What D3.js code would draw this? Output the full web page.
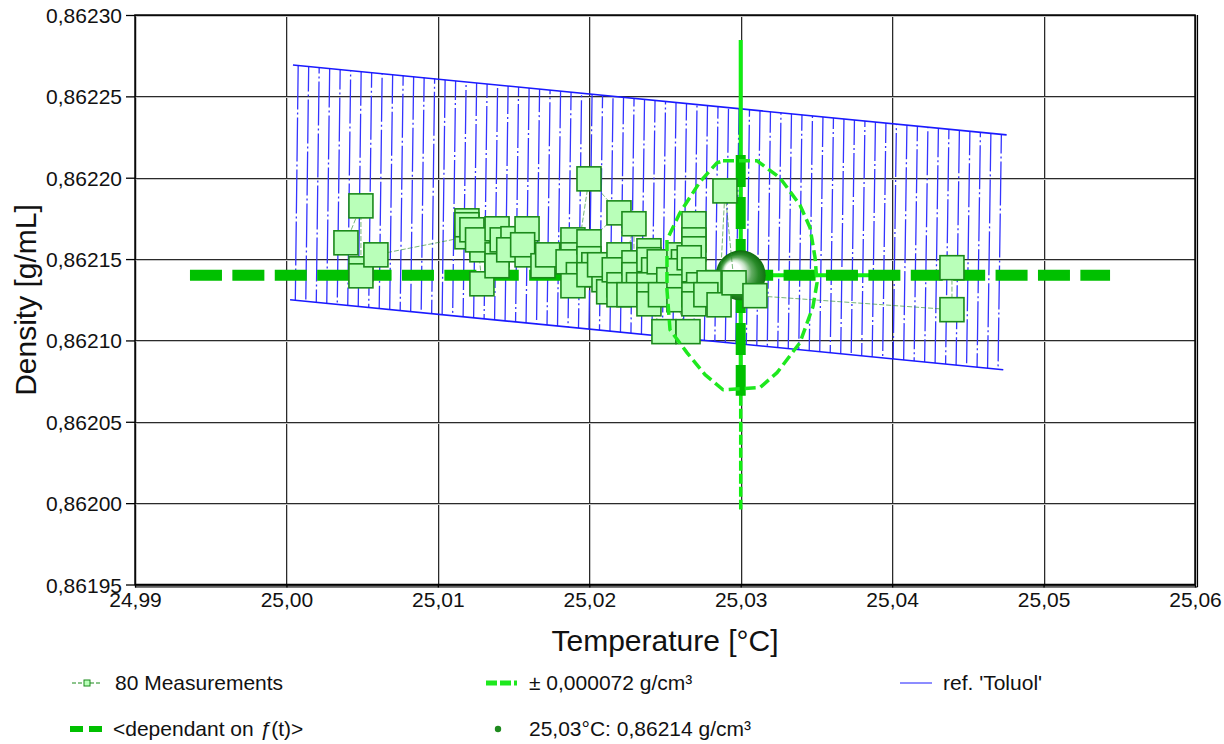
<!DOCTYPE html>
<html>
<head>
<meta charset="utf-8">
<script src="https://cdn.jsdelivr.net/npm/d3@7"></script>
<style>
  body { margin: 0; background: #fff; }
  svg { font-family: "Liberation Sans", Arial, sans-serif; display: block; }
</style>
</head>
<body>
<div id="page"></div>
<script>
(function() {

  "use strict";

  // axis ticks
  var xTicks = [24.99, 25.00, 25.01, 25.02, 25.03, 25.04, 25.05, 25.06];
  var yTicks = [0.86195, 0.86200, 0.86205, 0.86210, 0.86215, 0.86220, 0.86225, 0.86230];

  // 80 measurements, in order (temperature, density)
  var measT = [
    25.00393, 25.00492, 25.00492, 25.00492, 25.00591, 25.01192, 25.01192, 25.01192, 25.01225, 25.01291,
    25.01291, 25.01262, 25.01291, 25.01391, 25.01391, 25.01391, 25.01425, 25.01496, 25.01468, 25.01589,
    25.01589, 25.01560, 25.01694, 25.01725, 25.01892, 25.01892, 25.01860, 25.01928, 25.01892, 25.01998,
    25.02196, 25.01998, 25.01998, 25.02030, 25.01998, 25.02097, 25.02068, 25.02128, 25.02196, 25.02165,
    25.02196, 25.02196, 25.02295, 25.02295, 25.02295, 25.02325, 25.02262, 25.02394, 25.02394, 25.02425,
    25.02394, 25.02394, 25.02394, 25.02493, 25.02652, 25.02462, 25.02525, 25.02470, 25.02592, 25.02622,
    25.02592, 25.02592, 25.02592, 25.02691, 25.02691, 25.02691, 25.02660, 25.02691, 25.02722, 25.02691,
    25.02691, 25.02810, 25.02791, 25.02770, 25.02857, 25.02896, 25.02956, 25.03094, 25.04395, 25.04395
  ];
  var measD = [
    0.8621600, 0.8621827, 0.8621440, 0.8621397, 0.8621526, 0.8621637, 0.8621735, 0.8621711, 0.8621680, 0.8621588,
    0.8621557, 0.8621618, 0.8621348, 0.8621686, 0.8621526, 0.8621459, 0.8621618, 0.8621625, 0.8621557, 0.8621686,
    0.8621526, 0.8621588, 0.8621459, 0.8621526, 0.8621618, 0.8621526, 0.8621483, 0.8621404, 0.8621336, 0.8621993,
    0.8621784, 0.8621606, 0.8621502, 0.8621465, 0.8621404, 0.8621373, 0.8621465, 0.8621299, 0.8621526, 0.8621434,
    0.8621342, 0.8621281, 0.8621717, 0.8621477, 0.8621404, 0.8621342, 0.8621281, 0.8621551, 0.8621496, 0.8621434,
    0.8621342, 0.8621281, 0.8621225, 0.8621054, 0.8621054, 0.8621483, 0.8621373, 0.8621281, 0.8621526, 0.8621483,
    0.8621428, 0.8621330, 0.8621250, 0.8621717, 0.8621618, 0.8621563, 0.8621508, 0.8621434, 0.8621342, 0.8621281,
    0.8621225, 0.8621336, 0.8621354, 0.8621281, 0.8621219, 0.8621919, 0.8621354, 0.8621275, 0.8621189, 0.8621447
  ];

  // reference band 'Toluol' (upper and lower edge)
  var refTopT = [25.00043, 25.04756];
  var refTopD = [0.8622693, 0.8622263];
  var refBotT = [25.00024, 25.04734];
  var refBotD = [0.8621250, 0.8620820];

  // result
  var resT = 25.03;
  var resD = 0.86214;

  // <dependant on f(t)> cross
  var depT = [24.99363, 25.05439];
  var depD = [0.862214, 0.862066];

  // thin error bars
  var errT = [25.0214, 25.0386];
  var errD = [0.8622846, 0.8619961];
  var errDashFrom = 0.862066;

  // +- 0,000072 g/cm3 contour
  var contT = [
    25.02883, 25.03108, 25.03259, 25.03391, 25.03458, 25.03491, 25.03504, 25.03477, 25.03391, 25.03240,
    25.03127, 25.02883, 25.02764, 25.02645, 25.02533, 25.02513, 25.02513, 25.02599, 25.02731, 25.02843
  ];
  var contD = [
    0.8622104, 0.8622104, 0.8621999, 0.8621833, 0.8621692, 0.8621508, 0.8621354, 0.8621207, 0.8620986, 0.8620802,
    0.8620710, 0.8620697, 0.8620790, 0.8620925, 0.8621066, 0.8621311, 0.8621618, 0.8621784, 0.8621975, 0.8622091
  ];

  var legendItems = [
    { label: "80 Measurements", type: "meas" },
    { label: "\u00b1 0,000072 g/cm\u00b3", type: "cont" },
    { label: "ref. 'Toluol'", type: "ref" },
    { label: "<dependant on |(t)>", type: "dep" },
    { label: "25,03\u00b0C: 0,86214 g/cm\u00b3", type: "res" }
  ];

  /* * * * * * * * * * * * * * * * * * * */

  var W = 1224, H = 744;
  var left = 135, right = 1195, top = 15, bottom = 584.5;

  var svg = d3.select("#page").append("svg")
    .attr("width", W)
    .attr("height", H);

  var x = d3.scaleLinear().domain([24.99, 25.06]).range([left, right]);
  var y = d3.scaleLinear().domain([0.86195, 0.86230]).range([bottom, top]);

  var comma = function(f) {
    return function(v) { return d3.format(f)(v).replace(".", ","); };
  };

  var defs = svg.append("defs");

  var sphere = defs.append("radialGradient")
    .attr("id", "sphere")
    .attr("cx", "52%").attr("cy", "52%").attr("r", "52%")
    .attr("fx", "28%").attr("fy", "34%");
  [["0%", "#ffffff"], ["28%", "#ffffff"], ["42%", "#c8e4c8"], ["58%", "#62ac62"], ["76%", "#288a28"], ["100%", "#0b690b"]]
    .forEach(function(s) {
      sphere.append("stop").attr("offset", s[0]).attr("stop-color", s[1]);
    });

  /* * * grid * * */

  var grid = svg.append("g");

  xTicks.forEach(function(t) {
    var px = Math.round(x(t)) + 0.5;
    grid.append("line").attr("x1", px + 1).attr("x2", px + 1).attr("y1", top).attr("y2", bottom)
      .attr("stroke", "#c4c4c4").attr("stroke-width", 1);
    grid.append("line").attr("x1", px).attr("x2", px).attr("y1", top).attr("y2", bottom)
      .attr("stroke", "#2a2a2a").attr("stroke-width", 1);
  });

  yTicks.forEach(function(d) {
    var py = Math.round(y(d)) + 0.5;
    grid.append("line").attr("x1", left).attr("x2", right).attr("y1", py + 1).attr("y2", py + 1)
      .attr("stroke", "#c4c4c4").attr("stroke-width", 1);
    grid.append("line").attr("x1", left).attr("x2", right).attr("y1", py).attr("y2", py)
      .attr("stroke", "#2a2a2a").attr("stroke-width", 1);
  });

  /* * * reference band * * */

  var band = svg.append("g");
  var nHatch = 68;

  d3.range(nHatch).forEach(function(i) {
    var f = (i + 0.5) / nHatch;
    var tx = x(refTopT[0]) + f * (x(refTopT[1]) - x(refTopT[0]));
    var ty = y(refTopD[0]) + f * (y(refTopD[1]) - y(refTopD[0]));
    var bx = x(refBotT[0]) + f * (x(refBotT[1]) - x(refBotT[0]));
    var by = y(refBotD[0]) + f * (y(refBotD[1]) - y(refBotD[0]));
    band.append("line")
      .attr("x1", tx).attr("y1", ty).attr("x2", bx).attr("y2", by)
      .attr("stroke", "#3434ff")
      .attr("stroke-width", 1.3)
      .attr("stroke-dasharray", "44,3,2,3")
      .attr("stroke-dashoffset", (i * 19) % 52);
  });

  band.append("line")
    .attr("x1", x(refTopT[0])).attr("y1", y(refTopD[0]))
    .attr("x2", x(refTopT[1])).attr("y2", y(refTopD[1]))
    .attr("stroke", "#1a1aff").attr("stroke-width", 1.6);
  band.append("line")
    .attr("x1", x(refBotT[0])).attr("y1", y(refBotD[0]))
    .attr("x2", x(refBotT[1])).attr("y2", y(refBotD[1]))
    .attr("stroke", "#1a1aff").attr("stroke-width", 1.6);

  /* * * error cross * * */

  var cross = svg.append("g");

  cross.append("line")
    .attr("x1", x(errT[0])).attr("x2", x(errT[1]))
    .attr("y1", y(resD)).attr("y2", y(resD))
    .attr("stroke", "#11ee11").attr("stroke-width", 4);

  cross.append("line")
    .attr("x1", x(resT)).attr("x2", x(resT))
    .attr("y1", y(errD[0])).attr("y2", y(errDashFrom))
    .attr("stroke", "#11ee11").attr("stroke-width", 4);

  cross.append("line")
    .attr("x1", x(resT)).attr("x2", x(resT))
    .attr("y1", y(errDashFrom)).attr("y2", y(errD[1]))
    .attr("stroke", "#11ee11").attr("stroke-width", 3.5)
    .attr("stroke-dasharray", "10,3");

  cross.append("line")
    .attr("x1", x(depT[0])).attr("x2", x(depT[1]))
    .attr("y1", y(resD)).attr("y2", y(resD))
    .attr("stroke", "#00c000").attr("stroke-width", 11)
    .attr("stroke-dasharray", "32,10.4");

  cross.append("line")
    .attr("x1", x(resT)).attr("x2", x(resT))
    .attr("y1", y(depD[0])).attr("y2", y(depD[1]))
    .attr("stroke", "#00c000").attr("stroke-width", 10)
    .attr("stroke-dasharray", "32,10");

  svg.append("circle")
    .attr("cx", x(resT)).attr("cy", y(resD)).attr("r", 25)
    .attr("fill", "url(#sphere)");

  /* * * measurements * * */

  var pts = measT.map(function(t, i) { return [t, measD[i]]; });

  svg.append("path")
    .datum(pts)
    .attr("d", d3.line().x(function(p) { return x(p[0]); }).y(function(p) { return y(p[1]); }))
    .attr("fill", "none")
    .attr("stroke", "#2e8f2e")
    .attr("stroke-opacity", 0.65)
    .attr("stroke-width", 1)
    .attr("stroke-dasharray", "5,2");

  var sq = 24;
  svg.append("g").selectAll("rect")
    .data(pts)
    .enter().append("rect")
    .attr("x", function(p) { return x(p[0]) - sq / 2; })
    .attr("y", function(p) { return y(p[1]) - sq / 2; })
    .attr("width", sq)
    .attr("height", sq)
    .attr("fill", "#b9ffb9")
    .attr("stroke", "#1b8a1b")
    .attr("stroke-width", 1.6);

  /* * * contour * * */

  svg.append("path")
    .datum(contT.map(function(t, i) { return [t, contD[i]]; }))
    .attr("d", d3.line().x(function(p) { return x(p[0]); }).y(function(p) { return y(p[1]); }).curve(d3.curveLinearClosed))
    .attr("fill", "none")
    .attr("stroke", "#1ee81e")
    .attr("stroke-width", 3.5)
    .attr("stroke-linejoin", "round")
    .attr("stroke-dasharray", "11,5");

  /* * * frame * * */

  svg.append("rect")
    .attr("x", left).attr("y", top)
    .attr("width", right - left).attr("height", bottom - top)
    .attr("fill", "none").attr("stroke", "#000").attr("stroke-width", 1.5);
  svg.append("line").attr("x1", left).attr("x2", right + 2.5).attr("y1", bottom + 2.5).attr("y2", bottom + 2.5)
    .attr("stroke", "#000").attr("stroke-width", 1.2);
  svg.append("line").attr("x1", right + 2.5).attr("x2", right + 2.5).attr("y1", top).attr("y2", bottom + 2.5)
    .attr("stroke", "#000").attr("stroke-width", 1.2);

  /* * * axes * * */

  var yAxis = svg.append("g")
    .attr("transform", "translate(" + left + ",0)")
    .call(d3.axisLeft(y).tickValues(yTicks).tickFormat(comma(".5f")).tickSize(9).tickPadding(4));

  var xAxis = svg.append("g")
    .attr("transform", "translate(0," + bottom + ")")
    .call(d3.axisBottom(x).tickValues(xTicks).tickFormat(comma(".2f")).tickSize(3).tickPadding(4));

  [yAxis, xAxis].forEach(function(a) {
    a.select(".domain").remove();
    a.selectAll("line").attr("stroke", "#000").attr("stroke-width", 1.3);
    a.selectAll("text")
      .attr("fill", "#111")
      .style("font-size", "21px")
      .style("font-family", "'Liberation Sans', Arial, sans-serif");
  });
  yAxis.selectAll("text").attr("dy", "0.36em");
  xAxis.selectAll("text").attr("dy", "0.72em");

  svg.append("text")
    .attr("x", 665).attr("y", 651)
    .attr("text-anchor", "middle")
    .style("font-size", "30px")
    .attr("fill", "#111")
    .text("Temperature [\u00b0C]");

  svg.append("text")
    .attr("transform", "translate(36,300) rotate(-90)")
    .attr("text-anchor", "middle")
    .style("font-size", "30px")
    .attr("fill", "#111")
    .text("Density [g/mL]");

  /* * * legend * * */

  var legPos = [[72, 683], [486, 683], [900, 683], [70, 729], [486, 729]];
  var leg = svg.append("g");

  legendItems.forEach(function(item, i) {
    var lx = legPos[i][0], ly = legPos[i][1];
    var g = leg.append("g");
    if (item.type === "meas") {
      g.append("line").attr("x1", lx).attr("x2", lx + 30).attr("y1", ly).attr("y2", ly)
        .attr("stroke", "#1b8a1b").attr("stroke-width", 1).attr("stroke-dasharray", "4,2");
      g.append("rect").attr("x", lx + 12).attr("y", ly - 3).attr("width", 6).attr("height", 6)
        .attr("fill", "#b9ffb9").attr("stroke", "#1b8a1b").attr("stroke-width", 1);
    } else if (item.type === "cont") {
      g.append("line").attr("x1", lx).attr("x2", lx + 31).attr("y1", ly).attr("y2", ly)
        .attr("stroke", "#1ee81e").attr("stroke-width", 5).attr("stroke-dasharray", "11,3");
    } else if (item.type === "ref") {
      g.append("line").attr("x1", lx).attr("x2", lx + 32).attr("y1", ly).attr("y2", ly)
        .attr("stroke", "#1a1aff").attr("stroke-width", 1);
    } else if (item.type === "dep") {
      g.append("line").attr("x1", lx).attr("x2", lx + 32).attr("y1", ly).attr("y2", ly)
        .attr("stroke", "#00c000").attr("stroke-width", 6).attr("stroke-dasharray", "13,6");
    } else if (item.type === "res") {
      g.append("circle").attr("cx", lx + 12).attr("cy", ly).attr("r", 3.2)
        .attr("fill", "#1e8a1e");
    }
    var txt = g.append("text")
      .attr("x", lx + 43).attr("y", ly + 7)
      .style("font-size", "21px")
      .attr("fill", "#111");
    var parts = item.label.split("|");
    txt.append("tspan").text(parts[0]);
    if (parts.length > 1) {
      txt.append("tspan").style("font-style", "italic").text("\u0192");
      txt.append("tspan").text(parts[1]);
    }
  });

})();
</script>
</body>
</html>
